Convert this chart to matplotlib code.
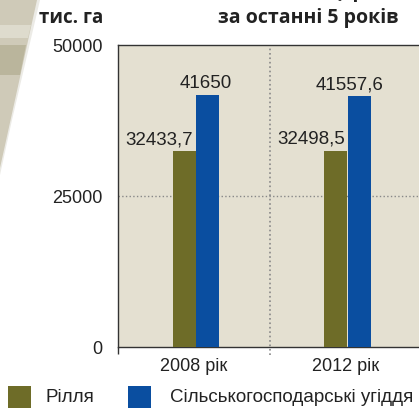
import matplotlib.pyplot as plt
from matplotlib.patches import Polygon, Rectangle

years = ['2008 рік', '2012 рік']
arable = [32433.7, 32498.5]
farmland = [41650, 41557.6]
arable_labels = ['32433,7', '32498,5']
farmland_labels = ['41650', '41557,6']
yticks = [0, 25000, 50000]

OLIVE = '#6e6c28'
BLUE = '#0a4ea0'
BG = '#e4e0d1'
TXT = '#222222'

plt.rcParams['font.family'] = ['Liberation Sans', 'DejaVu Sans']

W, H = 419, 408
fig = plt.figure(figsize=(W / 100, H / 100), dpi=100)


def px(pts):
    # pixel coords (from top-left) -> figure fraction
    return [(a / W, 1 - b / H) for a, b in pts]


# decorative grey photo fragment top-left
for pts, col in [
    ([(0, 0), (40, 0), (12, 120), (0, 175)], '#ecebe6'),
    ([(0, 0), (37, 0), (0, 168)], '#cfcab8'),
    ([(0, 25), (31, 25), (28, 38), (0, 38)], '#dedbcd'),
    ([(0, 45), (26, 45), (20, 75), (0, 75)], '#bab59c'),
]:
    fig.patches.append(Polygon(px(pts), closed=True, transform=fig.transFigure,
                               facecolor=col, edgecolor='none', zorder=0))

ax = fig.add_axes([0.2816, 0.1495, 0.725, 0.7402])
ax.set_facecolor(BG)

x = list(range(len(years)))
w = 0.152
x_ar = [i - 0.065 for i in x]
x_fa = [i + 0.092 for i in x]
ax.bar(x_ar, arable, width=w, color=OLIVE, zorder=3)
ax.bar(x_fa, farmland, width=w, color=BLUE, zorder=3)

for xi, v, s in zip(x_ar, arable, arable_labels):
    ax.annotate(s, (xi + w / 2 - 0.015, v), xytext=(0, 5), textcoords='offset points',
                ha='right', va='baseline', fontsize=13.5, color=TXT)
for xi, v, s in zip(x_fa, farmland, farmland_labels):
    ax.annotate(s, (xi + w / 2 + 0.08, v), xytext=(0, 5), textcoords='offset points',
                ha='right', va='baseline', fontsize=13.5, color=TXT)

ax.set_xlim(-0.5, 1.5)
ax.set_ylim(0, 50000)
ax.set_yticks(yticks)
ax.set_yticklabels([str(t) for t in yticks])
ax.set_xticks(x)
ax.set_xticklabels(years)
ax.tick_params(axis='y', length=0, pad=11, labelsize=13, labelcolor=TXT)
ax.tick_params(axis='x', length=0, pad=8, labelsize=13, labelcolor=TXT)
ax.set_xticks([-0.5], minor=True)
ax.tick_params(axis='x', which='minor', length=5, width=1, color='#333333')

ax.axhline(25000, color='#888888', ls=':', lw=1, zorder=1)
ax.axvline(0.5, ymin=-0.027, ymax=1, color='#888888', ls=':', lw=1.2,
           clip_on=False, zorder=1)

for s in ['left', 'top', 'bottom']:
    ax.spines[s].set_color('#333333')
    ax.spines[s].set_linewidth(1)
ax.spines['right'].set_visible(False)

bold = ['Open Sans', 'DejaVu Sans']
fig.text(103 / W, 1 - 23 / H, 'тис. га', ha='right', va='baseline', fontsize=13.5,
         fontweight='bold', family=bold, color=TXT)
fig.text(218 / W, 1 - 23 / H, 'за останні 5 років', ha='left', va='baseline', fontsize=14,
         fontweight='bold', family=bold, color=TXT)
fig.text(218 / W, 1 + 3 / H, 'Зміни площі ріллі', ha='left', va='baseline', fontsize=14,
         fontweight='bold', family=bold, color=TXT)

# legend
fig.patches.append(Rectangle((8 / W, 0.0), 23 / W, 22 / H, transform=fig.transFigure,
                             facecolor=OLIVE, edgecolor='none'))
fig.patches.append(Rectangle((128 / W, 0.0), 23 / W, 22 / H, transform=fig.transFigure,
                             facecolor=BLUE, edgecolor='none'))
fig.text(45 / W, 1 - 397 / H, 'Рілля', ha='left', va='center', fontsize=13.5, color=TXT)
fig.text(170 / W, 1 - 397 / H, 'Сільськогосподарські угіддя', ha='left', va='center',
         fontsize=13.5, color=TXT)

fig.savefig('out.png', dpi=100)
